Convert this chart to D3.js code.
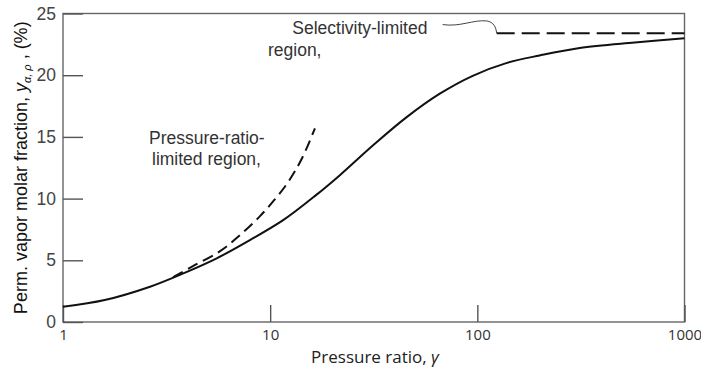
<!DOCTYPE html>
<html><head><meta charset="utf-8">
<script src="https://cdn.jsdelivr.net/npm/d3@7"></script>
<style>body{margin:0;background:#fff}svg{display:block}</style>
</head><body><svg id="c" width="701" height="383"></svg>
<script>
// data
const xTicks = [1, 10, 100, 1000];
const yTicks = [0, 5, 10, 15, 20, 25];
const mainGamma = [1.0, 1.59, 2.63, 3.81, 5.52, 7.99, 11.6, 16.7, 21.7, 31.3, 45.6, 65.9, 95, 139, 200, 312, 575, 1000];
const mainY     = [1.23, 1.78, 2.86, 3.94, 5.16, 6.64, 8.27, 10.3, 11.9, 14.3, 16.6, 18.5, 19.95, 21.0, 21.6, 22.2, 22.65, 23.0];
const prGamma = [3.40, 4.24, 5.73, 7.15, 8.93, 10.55, 12.2, 14.25, 16.45];
const prY     = [3.64, 4.53, 5.74, 7.04, 8.58, 9.95, 11.33, 13.27, 15.7];
const selGamma = [124, 1000];
const selY     = [23.4, 23.4];

const svg = d3.select('#c');
const W = 701, H = 383;
const m = {l: 63, r: 16.5, t: 13.5, b: 61};
const x = d3.scaleLog().domain([1, 1000]).range([m.l, W - m.r]);
const y = d3.scaleLinear().domain([0, 25]).range([H - m.b, m.t]);

// frame
svg.append('rect').attr('x', x(1)).attr('y', y(25))
  .attr('width', x(1000) - x(1)).attr('height', y(0) - y(25))
  .attr('fill', 'none').attr('stroke', '#666').attr('stroke-width', 1.4);

// y axis
const ya = svg.append('g').attr('transform', `translate(${x(1)},0)`)
  .call(d3.axisLeft(y).tickValues(yTicks).tickSize(-20).tickPadding(7).tickFormat(d3.format('d')));
ya.select('.domain').remove();
ya.selectAll('line').attr('stroke', '#555').attr('stroke-width', 1.4);
ya.selectAll('text').attr('font-family', 'Liberation Sans, Arial, sans-serif')
  .attr('font-size', 17.5).attr('fill', '#444');

// x axis
const xa = svg.append('g').attr('transform', `translate(0,${y(0)})`)
  .call(d3.axisBottom(x).tickValues(xTicks).tickSize(-17).tickPadding(7).tickFormat(d3.format('d')));
xa.select('.domain').remove();
xa.selectAll('line').attr('stroke', '#555').attr('stroke-width', 1.4);
xa.selectAll('text').attr('font-family', 'Open Sans, sans-serif')
  .attr('font-size', 15).attr('fill', '#333');

// curves
const line = d3.line().x(d => x(d[0])).y(d => y(d[1])).curve(d3.curveCatmullRom.alpha(0.5));
svg.append('path').datum(mainGamma.map((g, i) => [g, mainY[i]]))
  .attr('d', line).attr('fill', 'none').attr('stroke', '#111').attr('stroke-width', 2);
svg.append('path').datum(prGamma.map((g, i) => [g, prY[i]]))
  .attr('d', line).attr('fill', 'none').attr('stroke', '#111').attr('stroke-width', 2)
  .attr('stroke-dasharray', '11,6');
svg.append('path').datum(selGamma.map((g, i) => [g, selY[i]]))
  .attr('d', d3.line().x(d => x(d[0])).y(d => y(d[1]))).attr('fill', 'none')
  .attr('stroke', '#111').attr('stroke-width', 2.2).attr('stroke-dasharray', '18,7');

// leader for selectivity annotation
const lp = d3.path();
lp.moveTo(x(68), y(24.1));
lp.bezierCurveTo(x(83), y(23.9), x(95), y(24.5), x(111), y(24.4));
lp.bezierCurveTo(x(120), y(24.3), x(123), y(23.9), x(124), y(23.4));
svg.append('path').attr('d', lp.toString()).attr('fill', 'none')
  .attr('stroke', '#444').attr('stroke-width', 1);

// annotations
const ann = svg.append('g').attr('font-family', 'Liberation Sans, Arial, sans-serif')
  .attr('font-size', 17.5).attr('fill', '#333');
ann.append('text').attr('x', x(27.1)).attr('y', y(23.3)).attr('text-anchor', 'middle').text('Selectivity-limited');
ann.append('text').attr('x', x(9.76)).attr('y', y(21.55)).text('region,');
ann.append('text').attr('x', x(2.6)).attr('y', y(14.45)).text('Pressure-ratio-');
ann.append('text').attr('x', x(2.69)).attr('y', y(12.75)).text('limited region,');

// axis titles
svg.append('text').attr('x', 375).attr('y', 363)
  .attr('text-anchor', 'middle').attr('font-family', 'Open Sans, sans-serif')
  .attr('font-size', 17).attr('fill', '#222')
  .call(t => { t.append('tspan').text('Pressure ratio, '); t.append('tspan').attr('font-style', 'italic').text('γ'); });

const yt = svg.append('text').attr('transform', `translate(27,${(y(0) + y(25)) / 2}) rotate(-90)`)
  .attr('text-anchor', 'middle').attr('font-family', 'Liberation Sans, Arial, sans-serif')
  .attr('font-size', 18).attr('fill', '#111');
yt.append('tspan').text('Perm. vapor molar fraction, ');
yt.append('tspan').attr('font-style', 'italic').text('y');
yt.append('tspan').attr('font-style', 'italic').attr('font-size', 11).attr('dy', 4).text('α, ρ');
yt.append('tspan').attr('dy', -4).text(' , (%)');
</script></body></html>
